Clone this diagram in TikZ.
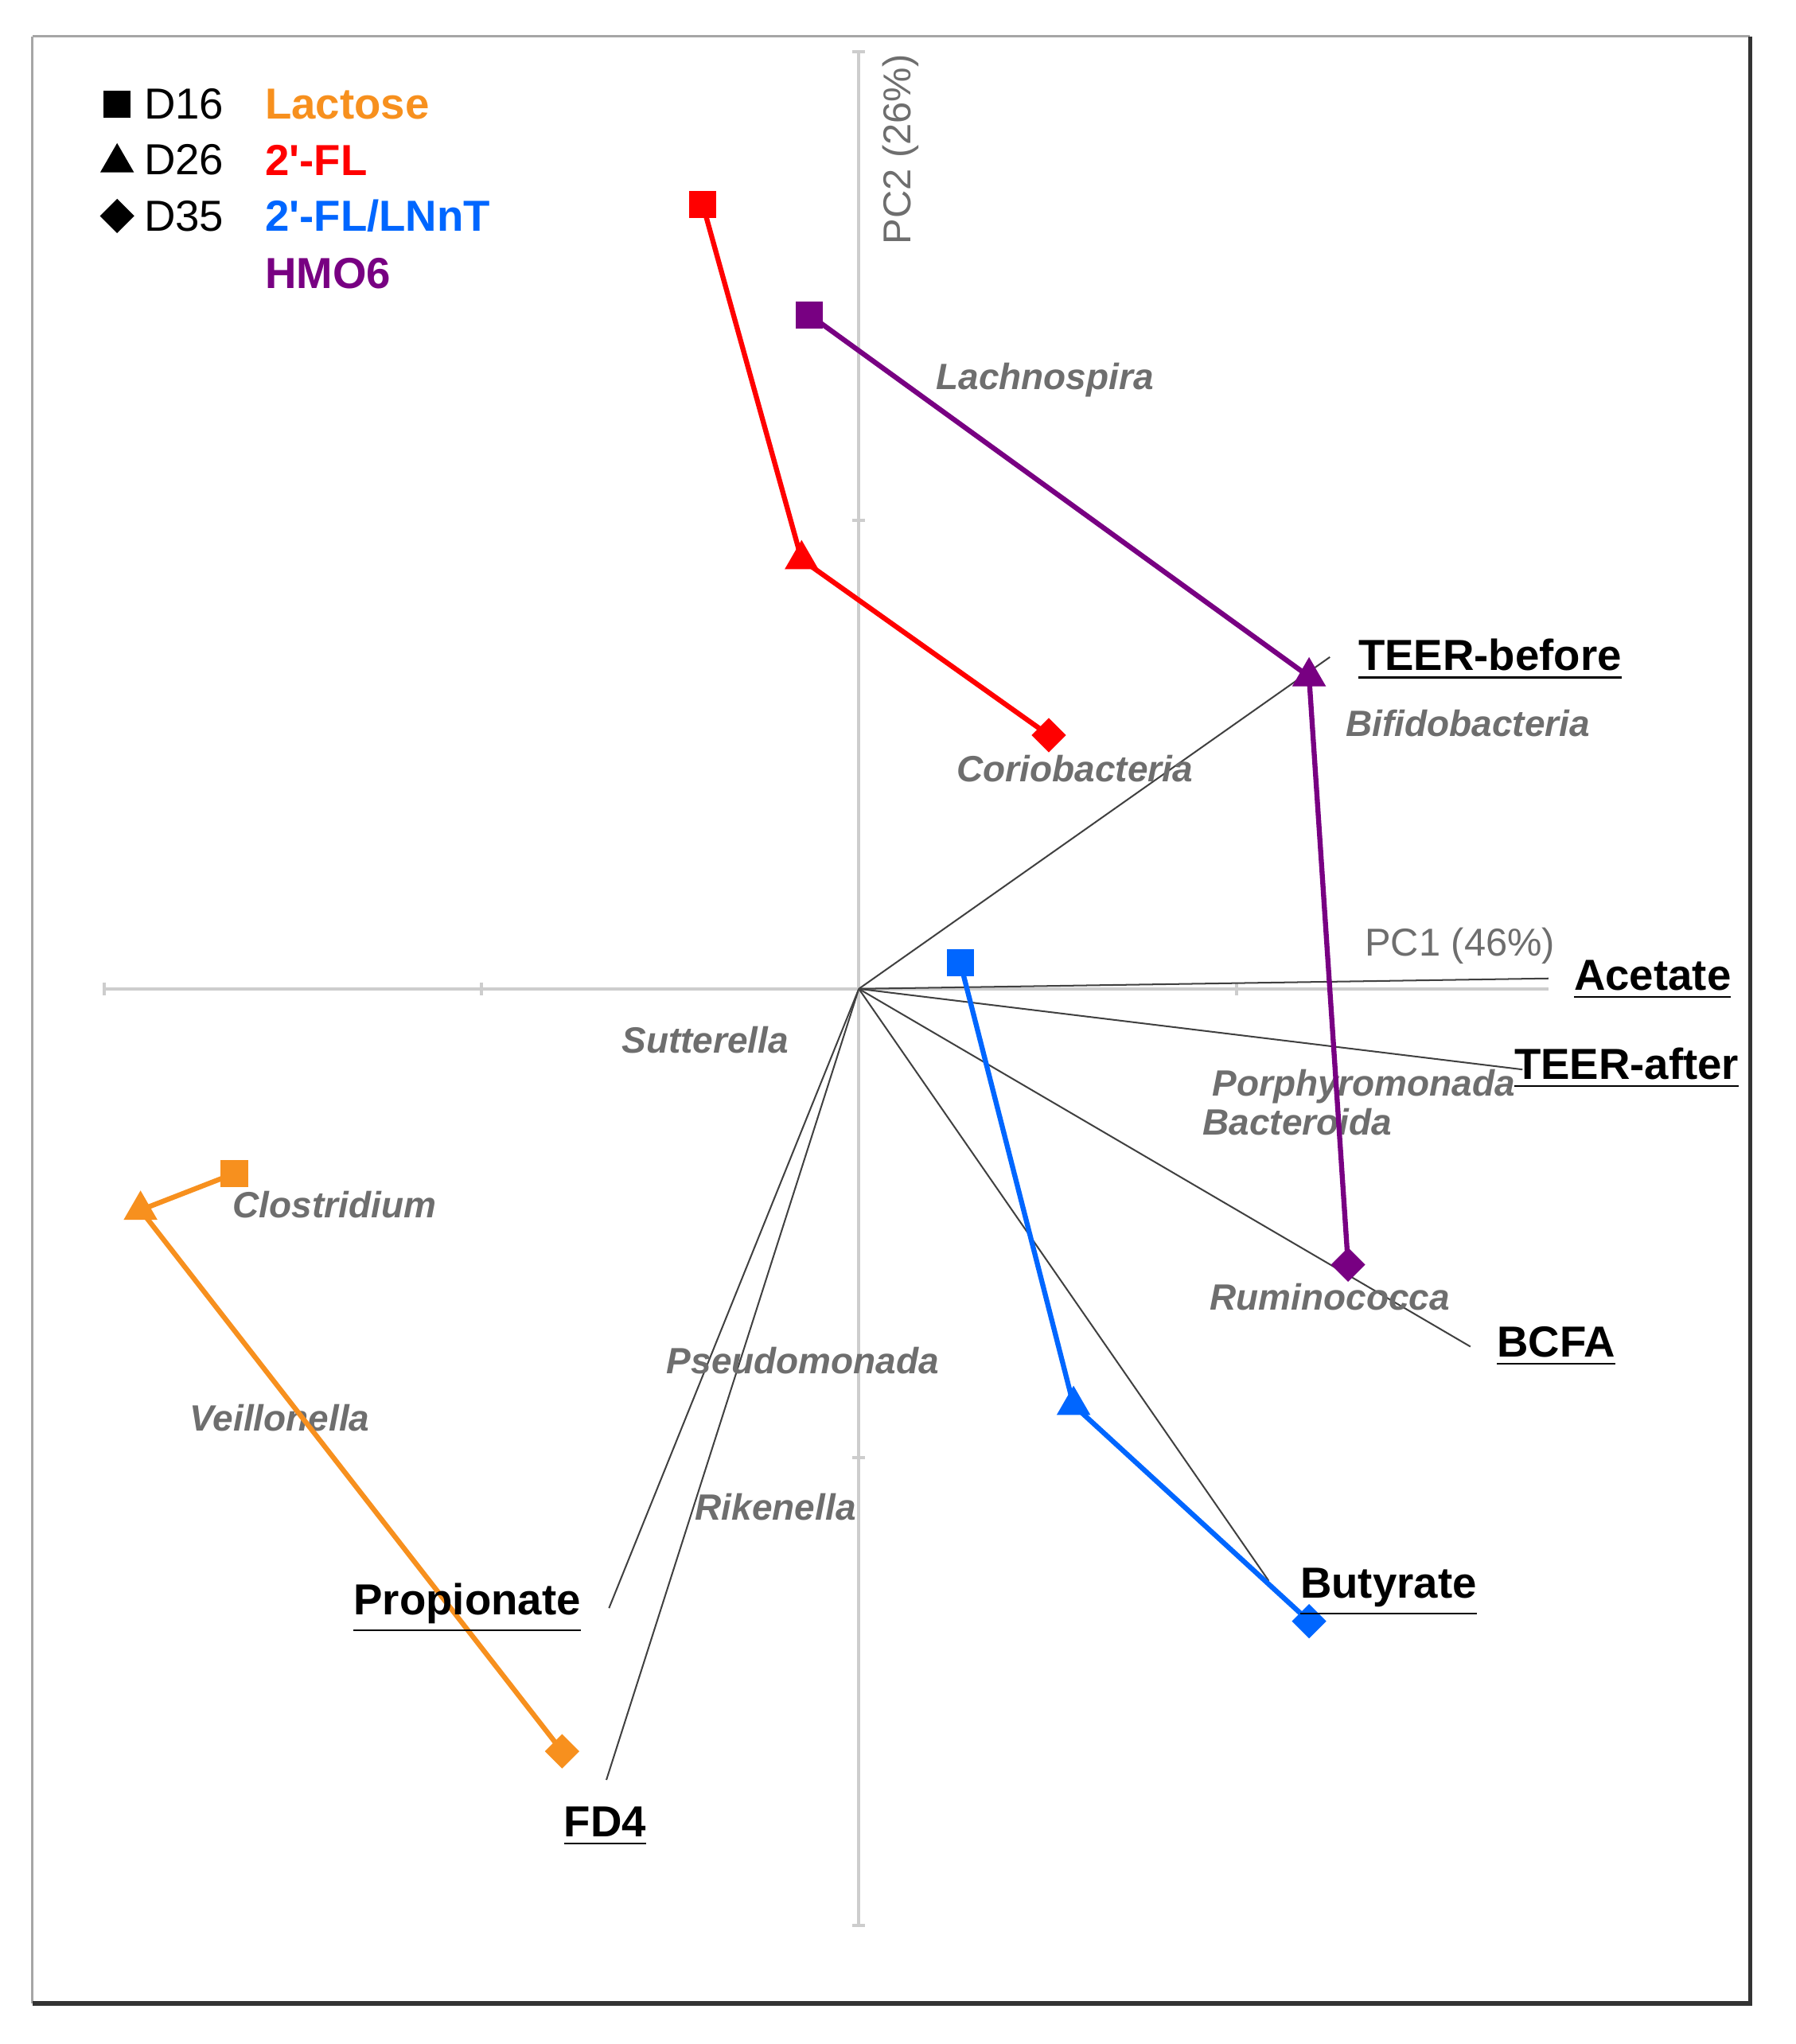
\documentclass[tikz,border=0pt]{standalone}
\usepackage{fontspec}
\setmainfont{Liberation Sans}
\usetikzlibrary{shapes.geometric}
\definecolor{cR}{RGB}{255,0,0}
\definecolor{cP}{RGB}{120,0,130}
\definecolor{cB}{RGB}{0,102,255}
\definecolor{cO}{RGB}{247,144,30}
\definecolor{ax}{RGB}{205,205,205}
\definecolor{tx}{RGB}{110,110,110}
\begin{document}
\begin{tikzpicture}[x=0.1mm,y=-0.1mm,
 sq/.style={rectangle,fill=#1,minimum size=21*0.1mm,inner sep=0},
 tri/.style={regular polygon,regular polygon sides=3,fill=#1,minimum size=30*0.1mm,inner sep=0},
 dia/.style={diamond,fill=#1,minimum size=27*0.1mm,inner sep=0},
 load/.style={black!75,line width=0.35pt},
 ser/.style={#1,line width=1.1pt},
 var/.style={font=\bfseries\fontsize{9.5}{11}\selectfont,inner sep=1pt},
 tax/.style={text=tx,font=\bfseries\itshape\fontsize{8}{10}\selectfont,inner sep=0},
 leg/.style={font=\fontsize{9.5}{11}\selectfont,inner sep=0,anchor=west}]
\useasboundingbox (0,0) rectangle (1380,1571);
\draw[black!35,line width=0.5pt] (25,28) -- (25,1540);
\draw[black!35,line width=0.5pt] (25,28) -- (1345,28);
\draw[black!80,line width=1pt] (1345,28) -- (1345,1540) -- (25,1540);
% axes
\draw[ax,line width=0.7pt] (80,760) -- (1190,760);
\draw[ax,line width=0.7pt] (660,40) -- (660,1480);
\foreach \x in {80,370,950} \draw[ax,line width=0.7pt] (\x,755) -- (\x,765);
\foreach \y in {40,400,1120,1480} \draw[ax,line width=0.7pt] (655,\y) -- (665,\y);
\node[text=tx,font=\fontsize{8.5}{10}\selectfont] at (1122,727) {PC1 (46\%)};
\node[text=tx,font=\fontsize{8.5}{10}\selectfont,rotate=90] at (692,115) {PC2 (26\%)};
\coordinate (O) at (660,760);
\coordinate (e1) at (1022,505);
\coordinate (e2) at (1190,752);
\coordinate (e3) at (1170,822);
\coordinate (e4) at (1130,1035);
\coordinate (e5) at (975,1215);
\coordinate (e6) at (468,1236);
\coordinate (e7) at (466,1368);
\foreach \e in {e1,e2,e3,e4,e5,e6,e7} \draw[load] (O) -- (\e);
% taxa
\node[tax] at (803,292) {Lachnospira};
\node[tax] at (1128,556) {Bifidobacteria};
\node[tax] at (826,591) {Coriobacteria};
\node[tax] at (542,799) {Sutterella};
\node[tax] at (1048,835) {Porphyromonada};
\node[tax] at (997,862) {Bacteroida};
\node[tax] at (257,926) {Clostridium};
\node[tax] at (1022,997) {Ruminococca};
\node[tax] at (617,1046) {Pseudomonada};
\node[tax] at (215,1090) {Veillonella};
\node[tax] at (596,1158) {Rikenella};
% series
\node[sq=cR] (r1) at (540,157) {}; \node[tri=cR] (r2) at (616,430) {}; \node[dia=cR] (r3) at (806,565) {};
\node[sq=cP] (p1) at (622,242) {}; \node[tri=cP] (p2) at (1006,520) {}; \node[dia=cP] (p3) at (1036,972) {};
\node[sq=cB] (b1) at (738,740) {}; \node[tri=cB] (b2) at (825,1080) {}; \node[dia=cB] (b3) at (1006,1246) {};
\node[sq=cO] (o1) at (180,902) {}; \node[tri=cO] (o2) at (108,930) {}; \node[dia=cO] (o3) at (432,1346) {};
\draw[ser=cR] (r1.center) -- (r2.center) -- (r3.center);
\draw[ser=cP] (p1.center) -- (p2.center) -- (p3.center);
\draw[ser=cB] (b1.center) -- (b2.center) -- (b3.center);
\draw[ser=cO] (o1.center) -- (o2.center) -- (o3.center);
% variable labels
\node[var] (v1) at (1145,507) {\underline{TEER-before}};
\node[var] (v2) at (1270,753) {\underline{Acetate}};
\node[var] (v3) at (1250,821) {\underline{TEER-after}};
\node[var] (v4) at (1196,1035) {\underline{BCFA}};
\node[var] (v5) at (1067,1224) {\underline{Butyrate}};
\node[var] (v6) at (359,1236) {\underline{Propionate}};
\node[var] (v7) at (465,1404) {\underline{FD4}};
% legend
\node[sq=black] (l1) at (90,80) {}; \node[tri=black] (l2) at (90,125) {}; \node[dia=black] (l3) at (90,166) {};
\node[leg] at (110,80) {D16};
\node[leg] at (110,123) {D26};
\node[leg] at (110,166) {D35};
\node[leg,text=cO,font=\bfseries\fontsize{9.5}{11}\selectfont] at (203,80) {Lactose};
\node[leg,text=cR,font=\bfseries\fontsize{9.5}{11}\selectfont] at (203,123) {2\textquotesingle-FL};
\node[leg,text=cB,font=\bfseries\fontsize{9.5}{11}\selectfont] at (203,166) {2\textquotesingle-FL/LNnT};
\node[leg,text=cP,font=\bfseries\fontsize{9.5}{11}\selectfont] at (203,210) {HMO6};
\end{tikzpicture}
\end{document}
